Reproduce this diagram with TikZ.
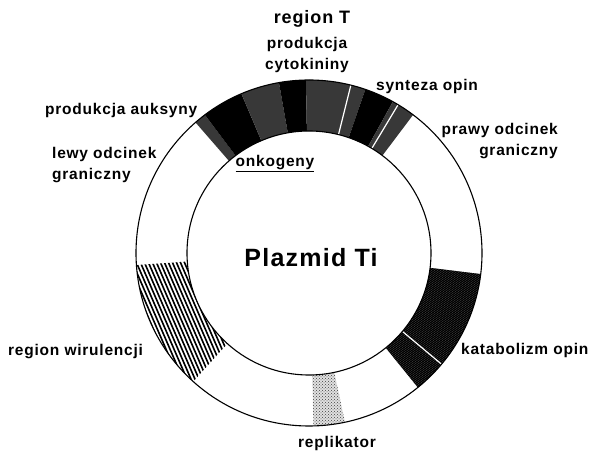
\documentclass[tikz,border=0pt]{standalone}
\usepackage{fontspec}
\setmainfont{Liberation Sans}[LetterSpace=5]
\usetikzlibrary{patterns}

\def\rin{122pt}
\def\rout{173pt}
% one piece of the ring, from angle #1 to angle #2
\newcommand{\ringpart}[2]{(#1:\rout) arc[start angle=#1,end angle=#2,radius=\rout] -- (#2:\rin) arc[start angle=#2,end angle=#1,radius=\rin] -- cycle}

\tikzset{
  lbl/.style={font=\bfseries\fontsize{15.5}{21}\selectfont,inner sep=0pt},
  dotpart/.style={fill=black!78},
  solidpart/.style={fill=black},
  gap/.style={white,line width=1.2pt},
}

\begin{document}
\begin{tikzpicture}[x=1pt,y=1pt,line cap=round]
\useasboundingbox (0,0) rectangle (595,452);
\fill[white] (0,0) rectangle (595,452);
\begin{scope}[shift={(309,199)}]
% region T
\fill[dotpart] \ringpart{131}{127};
\fill[solidpart] \ringpart{127}{113};
\fill[dotpart] \ringpart{113}{100};
\fill[solidpart] \ringpart{100}{91};
\fill[dotpart] \ringpart{91}{71};
\fill[solidpart] \ringpart{71}{61};
\fill[dotpart] \ringpart{61}{53};
\draw[gap] (76:\rin) -- (76:\rout);
\draw[gap] (59:\rin) -- (59:\rout);
% katabolizm opin
\fill[black!50] \ringpart{-7}{-51};
\begin{scope}
\clip \ringpart{-7}{-51};
\foreach \x in {-150,-147,...,180}
  \draw[line width=1.4pt] (\x,-140) -- (\x+200,0);
\end{scope}
\draw[gap] (-40:\rin) -- (-40:\rout);
% region wirulencji
\begin{scope}
\clip \ringpart{184}{228};
\foreach \x in {-200,-196,...,0}
  \draw[line width=1.6pt] (\x,-140) -- (\x-65,10);
\end{scope}
% replikator
\fill[black!12] \ringpart{-88.5}{-78};
\fill[pattern=crosshatch dots,pattern color=black!75] \ringpart{-88.5}{-78};
\draw[line width=1.1pt] (0,0) circle[radius=\rout];
\draw[line width=1.1pt] (0,0) circle[radius=\rin];
\end{scope}

\node[lbl,font=\bfseries\fontsize{18}{21}\selectfont] (regT) at (312,433) {region T};
\node[lbl,align=center] (cyto) at (307,397) {produkcja\\cytokininy};
\node[lbl,anchor=west] (synt) at (376,366) {synteza opin};
\node[lbl,anchor=east,align=right] (prawy) at (558,311) {prawy odcinek\\graniczny};
\node[lbl,anchor=west] (auks) at (45,342) {produkcja auksyny};
\node[lbl,anchor=west,align=left] (lewy) at (52,287) {lewy odcinek\\graniczny};
\node[lbl] (onko) at (275,288) {\underline{onkogeny}};
\node[lbl,font=\bfseries\fontsize{25}{30}\selectfont] (plaz) at (311,194) {Plazmid Ti};
\node[lbl,anchor=west] (wiru) at (8,100) {region wirulencji};
\node[lbl,anchor=west] (kata) at (461,102) {katabolizm opin};
\node[lbl] (repl) at (337,9) {replikator};
\end{tikzpicture}
\end{document}
